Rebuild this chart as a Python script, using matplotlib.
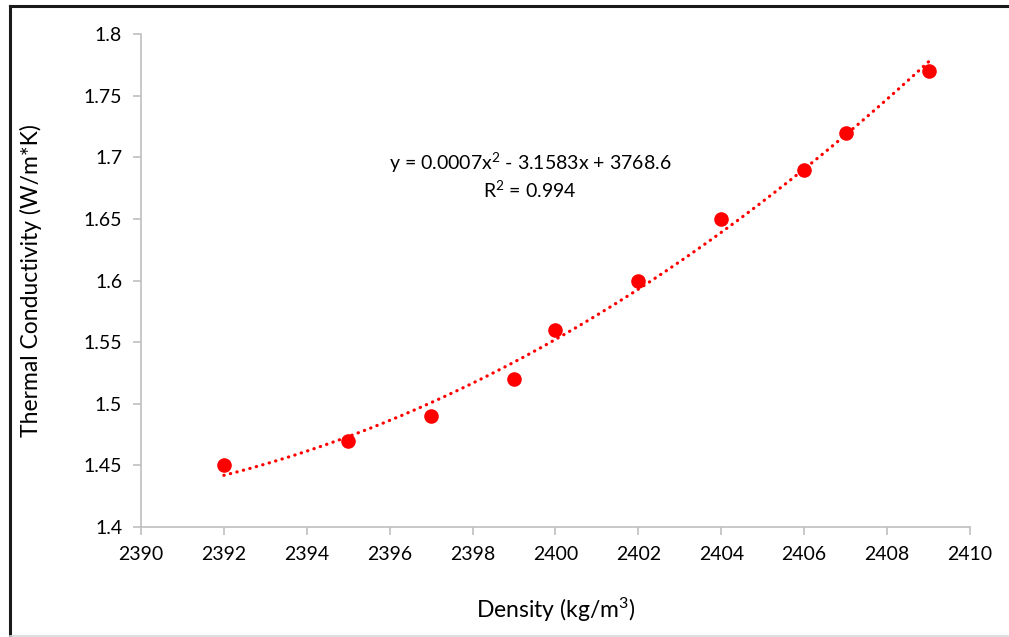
import numpy as np
import matplotlib.pyplot as plt
from matplotlib.lines import Line2D
from matplotlib.ticker import FuncFormatter

plt.rcParams['font.family'] = ['Lato', 'DejaVu Sans']
plt.rcParams['mathtext.fontset'] = 'custom'
plt.rcParams['mathtext.rm'] = 'Lato'
plt.rcParams['mathtext.default'] = 'rm'

density = [2392, 2395, 2397, 2399, 2400, 2402, 2404, 2406, 2407, 2409]
conductivity = [1.45, 1.47, 1.49, 1.52, 1.56, 1.60, 1.65, 1.69, 1.72, 1.77]
equation = 'y = 0.0007x$^{2}$ - 3.1583x + 3768.6'
r_squared = 'R$^{2}$ = 0.994'

fig = plt.figure(figsize=(10.09, 6.37), dpi=100)
ax = fig.add_axes([0.1397, 0.1727, 0.8216, 0.7739])

# 2nd order polynomial trendline, same as the excel one
coef = np.polyfit(density, conductivity, 2)
xs = np.linspace(min(density), max(density), 200)
ax.plot(xs, np.polyval(coef, xs), color='#ff0000', lw=2.3,
        linestyle=(0, (0.1, 2.0)), dash_capstyle='round', zorder=2)

ax.plot(density, conductivity, 'o', color='#ff0000', markersize=10.5,
        markeredgewidth=0, zorder=3)

ax.set_xlim(2390, 2410)
ax.set_ylim(1.4, 1.8)
ax.set_xticks(np.arange(2390, 2411, 2))
ax.set_yticks(np.arange(1.4, 1.801, 0.05))
ax.yaxis.set_major_formatter(FuncFormatter(lambda v, p: '%g' % round(v, 2)))

for s in ['top', 'right']:
    ax.spines[s].set_visible(False)
for s in ['left', 'bottom']:
    ax.spines[s].set_color('#bfbfbf')
    ax.spines[s].set_linewidth(1.2)
ax.tick_params(direction='out', length=5.5, width=1.2, color='#bfbfbf',
               labelsize=14, labelcolor='black', pad=8)

ax.set_xlabel('Density (kg/m$^{3}$)', fontsize=16.5, labelpad=24)
ax.set_ylabel('Thermal Conductivity (W/m*K)', fontsize=16.5, labelpad=30)

fig.text(0.525, 0.744, equation, ha='center', va='center', fontsize=14)
fig.text(0.525, 0.702, r_squared, ha='center', va='center', fontsize=14)

# frame lines around the picture
fig.add_artist(Line2D([0.0099, 1.0], [0.9906, 0.9906], color='#1a1a1a', lw=2.2,
                      transform=fig.transFigure))
fig.add_artist(Line2D([0.0099, 0.0099], [0.0, 0.9906], color='#1a1a1a', lw=2.2,
                      transform=fig.transFigure))
fig.add_artist(Line2D([0.0099, 1.0], [0.0015, 0.0015], color='#d9d9d9', lw=1.2,
                      transform=fig.transFigure))

fig.savefig('out.png', dpi=100)
